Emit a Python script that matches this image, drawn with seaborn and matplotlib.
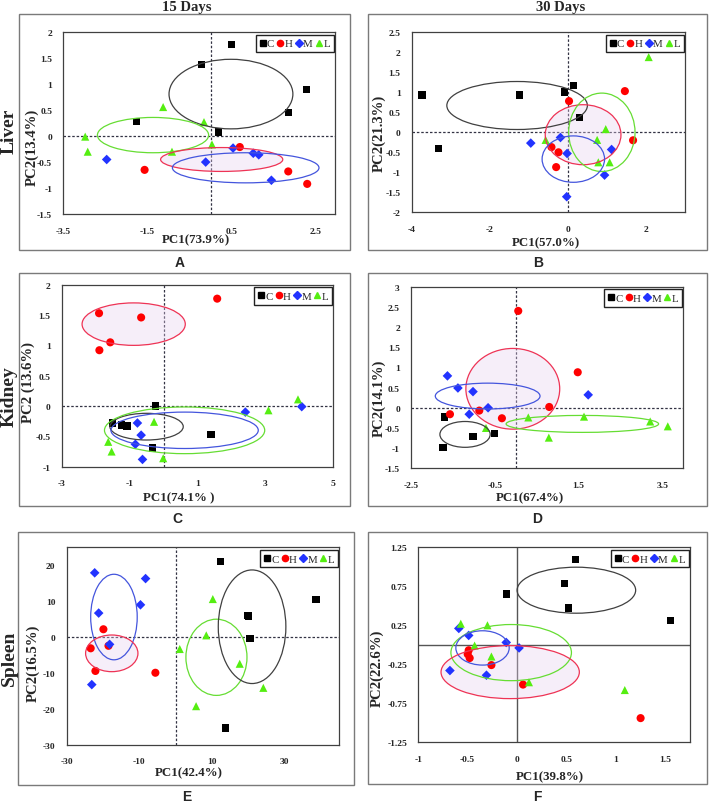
import matplotlib
matplotlib.use('Agg')
import matplotlib.pyplot as plt
import seaborn as sns
import pandas as pd
from matplotlib.patches import Ellipse, Rectangle
from matplotlib.lines import Line2D

groups = ['C', 'H', 'M', 'L']

# ---- A: liver, 15 days ----
A_C = [(0.49, 1.76), (-0.22, 1.38), (2.27, 0.90), (1.84, 0.45), (-1.76, 0.28), (0.18, 0.08)]
A_H = [(0.69, -0.21), (-1.57, -0.65), (1.84, -0.68), (2.29, -0.92)]
A_M = [(-2.47, -0.45), (-0.12, -0.50), (0.53, -0.23), (1.01, -0.33), (1.14, -0.36), (1.44, -0.85)]
A_L = [(-2.98, -0.01), (-2.92, -0.30), (-1.13, 0.56), (-0.16, 0.27), (-0.92, -0.30), (0.03, -0.16)]
A_ELL = {'C': (0.48, 0.81, 1.47, 0.67), 'L': (-1.37, 0.02, 1.32, 0.34),
         'H': (0.26, -0.45, 1.45, 0.23), 'M': (0.83, -0.61, 1.74, 0.29)}

# ---- B: liver, 30 days ----
B_C = [(-3.74, 0.93), (-3.32, -0.40), (-1.24, 0.93), (-0.08, 1.01), (0.14, 1.17), (0.29, 0.37)]
B_H = [(0.03, 0.78), (1.46, 1.03), (1.67, -0.20), (-0.42, -0.37), (-0.24, -0.50), (-0.30, -0.87)]
B_M = [(-0.95, -0.27), (-0.19, -0.13), (-0.02, -0.53), (1.12, -0.43), (0.94, -1.07), (-0.03, -1.61)]
B_L = [(2.07, 1.88), (0.97, 0.08), (0.75, -0.19), (-0.57, -0.19), (0.78, -0.75), (1.07, -0.75)]
B_ELL = {'C': (-1.30, 0.67, 1.80, 0.60), 'H': (0.39, -0.06, 0.97, 0.75),
         'L': (0.87, 0.0, 0.85, 0.98), 'M': (0.14, -0.67, 0.80, 0.58)}

# ---- C: kidney, 15 days ----
C_C = [(-0.24, 0.0), (-1.50, -0.28), (-1.23, -0.31), (-1.08, -0.33), (1.40, -0.47), (-0.33, -0.69)]
C_H = [(-1.90, 1.53), (-0.66, 1.46), (-1.57, 1.05), (-1.89, 0.92), (1.58, 1.77)]
C_M = [(2.41, -0.10), (4.07, -0.01), (-0.77, -0.28), (-0.66, -0.48), (-0.83, -0.63), (-0.62, -0.88)]
C_L = [(3.96, 0.11), (3.09, -0.07), (-0.28, -0.26), (-1.63, -0.59), (-1.53, -0.75), (-0.01, -0.86)]
C_ELL = {'H': (-0.88, 1.35, 1.52, 0.35), 'C': (-0.50, -0.34, 1.08, 0.22),
         'M': (0.62, -0.40, 2.17, 0.30), 'L': (0.62, -0.40, 2.36, 0.385)}

# ---- D: kidney, 30 days ----
D_C = [(-1.70, -0.23), (-1.74, -0.98), (-1.02, -0.71), (-0.51, -0.64)]
D_H = [(0.06, 2.40), (1.48, 0.88), (0.80, 0.02), (-1.57, -0.16), (-0.87, -0.07), (-0.33, -0.26)]
D_M = [(-1.63, 0.79), (-1.38, 0.49), (-1.02, 0.40), (-0.66, 0.0), (-1.11, -0.16), (1.73, 0.32)]
D_L = [(0.30, -0.24), (1.63, -0.22), (3.21, -0.34), (3.63, -0.46), (0.79, -0.74), (-0.71, -0.50)]
D_ELL = {'H': (-0.07, 0.47, 1.12, 1.0), 'M': (-0.67, 0.29, 1.25, 0.32),
         'C': (-1.21, -0.66, 0.60, 0.32), 'L': (1.59, -0.40, 1.82, 0.21)}

# ---- E: spleen, 15 days ----
E_C = [(12.4, 21.0), (38.6, 10.4), (19.9, 6.0), (20.1, 5.8), (20.4, -0.3), (13.7, -25.3)]
E_H = [(-19.9, 2.2), (-23.4, -3.1), (-18.5, -2.4), (-22.1, -9.4), (-5.6, -9.9)]
E_M = [(-22.3, 17.9), (-8.3, 16.3), (-21.2, 6.7), (-9.7, 9.0), (-18.2, -2.0), (-23.1, -13.2)]
E_L = [(10.2, 10.6), (8.4, 0.5), (1.1, -3.3), (17.6, -7.4), (24.1, -14.1), (5.6, -19.2)]
E_ELL = {'M': (-17.0, 5.6, 6.4, 11.9), 'H': (-17.6, -4.5, 7.2, 5.1),
         'L': (11.2, -5.6, 8.4, 10.6), 'C': (21.0, 2.9, 9.3, 15.8)}

# ---- F: spleen, 30 days ----
F_C = [(0.59, 1.09), (0.48, 0.79), (0.52, 0.47), (-0.11, 0.65), (1.55, 0.31)]
F_H = [(-0.49, -0.07), (-0.50, -0.12), (-0.48, -0.17), (-0.26, -0.26), (0.06, -0.51), (1.25, -0.94)]
F_M = [(-0.59, 0.21), (-0.49, 0.12), (-0.11, 0.03), (0.02, -0.04), (-0.68, -0.33), (-0.31, -0.39)]
F_L = [(-0.57, 0.27), (-0.30, 0.25), (-0.43, -0.01), (-0.26, -0.15), (0.12, -0.48), (1.09, -0.58)]
F_ELL = {'C': (0.60, 0.70, 0.60, 0.295), 'L': (-0.06, -0.10, 0.61, 0.36),
         'M': (-0.35, -0.04, 0.27, 0.22), 'H': (-0.07, -0.35, 0.70, 0.34)}

colors = {'C': '#000000', 'H': '#ff0000', 'M': '#2233ff', 'L': '#55ee11'}
ell_colors = {'C': '#404040', 'H': '#ee3355', 'M': '#4455dd', 'L': '#66dd33'}
markers = {'C': 's', 'H': 'o', 'M': 'D', 'L': '^'}
msize = {'C': 28, 'H': 34, 'M': 24, 'L': 34}

W, H = 709, 804
SERIF = ['Liberation Serif', 'DejaVu Serif']


def frac(l, t, r, b):
    return [l / W, 1 - b / H, (r - l) / W, (b - t) / H]


panels = [
    dict(pts=(A_C, A_H, A_M, A_L), ell=A_ELL, xlim=(-3.5, 2.95), ylim=(-1.5, 2),
         xt=[-3.5, -1.5, 0.5, 2.5], yt=[-1.5, -1, -0.5, 0, 0.5, 1, 1.5, 2],
         ax=(63.3, 33.3, 335, 215), box=(19, 15, 350, 250.7),
         xl=('PC1(73.9%)', 196, 240), yl=('PC2(13.4%)', 32, 147), tag=('A', 180, 263), solid=False),
    dict(pts=(B_C, B_H, B_M, B_L), ell=B_ELL, xlim=(-4, 3), ylim=(-2, 2.5),
         xt=[-4, -2, 0, 2], yt=[-2, -1.5, -1, -0.5, 0, 0.5, 1, 1.5, 2, 2.5],
         ax=(411.7, 33.3, 685, 213.3), box=(368.3, 15, 706.7, 250.7),
         xl=('PC1(57.0%)', 546, 243), yl=('PC2(21.3%)', 379, 133), tag=('B', 538, 263), solid=False),
    dict(pts=(C_C, C_H, C_M, C_L), ell=C_ELL, xlim=(-3, 5), ylim=(-1, 2),
         xt=[-3, -1, 1, 3, 5], yt=[-1, -0.5, 0, 0.5, 1, 1.5, 2],
         ax=(61.7, 285.7, 333.3, 467.7), box=(19, 274.3, 350, 507.3),
         xl=('PC1(74.1% )', 179, 498), yl=('PC2 (13.6%)', 28, 383), tag=('C', 177, 519), solid=False),
    dict(pts=(D_C, D_H, D_M, D_L), ell=D_ELL, xlim=(-2.5, 4.0), ylim=(-1.5, 3),
         xt=[-2.5, -0.5, 1.5, 3.5], yt=[-1.5, -1, -0.5, 0, 0.5, 1, 1.5, 2, 2.5, 3],
         ax=(411, 287.7, 683.3, 469.3), box=(368.3, 274.3, 706.7, 507.3),
         xl=('PC1(67.4%)', 530, 498), yl=('PC2(14.1%)', 379, 398), tag=('D', 537, 519), solid=False),
    dict(pts=(E_C, E_H, E_M, E_L), ell=E_ELL, xlim=(-30, 45), ylim=(-30, 25),
         xt=[-30, -10, 10, 30], yt=[-30, -20, -10, 0, 10, 20],
         ax=(66.7, 548.3, 339.3, 746), box=(18.3, 532.7, 354, 786),
         xl=('PC1(42.4%)', 189, 773), yl=('PC2(16.5%)', 33, 663), tag=('E', 187, 797), solid=False),
    dict(pts=(F_C, F_H, F_M, F_L), ell=F_ELL, xlim=(-1, 1.75), ylim=(-1.25, 1.25),
         xt=[-1, -0.5, 0, 0.5, 1, 1.5], yt=[-1.25, -0.75, -0.25, 0.25, 0.75, 1.25],
         ax=(418.3, 548.3, 690, 743.3), box=(368.3, 532.7, 706.7, 785),
         xl=('PC1(39.8%)', 550, 777), yl=('PC2(22.6%)', 377, 668), tag=('F', 537, 797), solid=True),
]

sns.set_theme(style='white')
plt.rcParams['font.family'] = SERIF

fig = plt.figure(figsize=(7.09, 8.04), dpi=100)
fig.patch.set_facecolor('white')

for p in panels:
    # outer frame of the panel
    l, t, r, b = p['box']
    fig.patches.append(Rectangle((l / W, 1 - b / H), (r - l) / W, (b - t) / H,
                                 transform=fig.transFigure, fill=False,
                                 edgecolor='#7a7a7a', linewidth=1.0, zorder=0))

    ax = fig.add_axes(frac(*p['ax']))
    rows = []
    for g, pts in zip(groups, p['pts']):
        for x, y in pts:
            rows.append({'x': x, 'y': y, 'grp': g})
    df = pd.DataFrame(rows)

    # reference lines
    if p['solid']:
        ax.axhline(0, color='#555555', lw=1.0, zorder=1)
        ax.axvline(0, color='#555555', lw=1.0, zorder=1)
    else:
        ax.axhline(0, color='#333344', lw=0.9, ls=(0, (2, 1.5)), zorder=1)
        ax.axvline(0, color='#333344', lw=0.9, ls=(0, (2, 1.5)), zorder=1)

    for g in groups:
        sub = df[df['grp'] == g]
        sns.scatterplot(data=sub, x='x', y='y', color=colors[g], marker=markers[g],
                        s=msize[g], edgecolor='none', legend=False, ax=ax, zorder=3)

    # group ellipses
    for g, (cx, cy, hw, hh) in p['ell'].items():
        if g == 'H':
            ax.add_patch(Ellipse((cx, cy), 2 * hw, 2 * hh, facecolor='#e8d0f0',
                                 alpha=0.35, edgecolor='none', zorder=2))
        ax.add_patch(Ellipse((cx, cy), 2 * hw, 2 * hh, fill=False,
                             edgecolor=ell_colors[g], lw=0.9, zorder=4))

    ax.set_xlim(*p['xlim'])
    ax.set_ylim(*p['ylim'])
    ax.set_xticks(p['xt'])
    ax.set_yticks(p['yt'])
    ax.set_xticklabels([f'{v:g}' for v in p['xt']])
    ax.set_yticklabels([f'{v:g}' for v in p['yt']])
    ax.set_xlabel('')
    ax.set_ylabel('')
    ax.tick_params(axis='both', length=0, labelsize=6.8)
    ax.tick_params(axis='x', pad=9)
    ax.tick_params(axis='y', pad=8)
    for lab in ax.get_xticklabels() + ax.get_yticklabels():
        lab.set_fontweight('bold')
    for sp in ax.spines.values():
        sp.set_color('#404040')
        sp.set_linewidth(0.9)

    handles = [Line2D([], [], ls='none', marker=markers[g], color=colors[g],
                      markersize=4.5 if g != 'M' else 3.8) for g in groups]
    ax.legend(handles, groups, ncol=4, loc='upper right', bbox_to_anchor=(0.995, 0.985),
              frameon=True, fancybox=False, edgecolor='#222222', framealpha=1,
              handlelength=0.55, handletextpad=0.12, columnspacing=0.3,
              borderpad=0.35, borderaxespad=0.0, prop={'family': SERIF, 'size': 7.8})

    t_, x_, y_ = p['xl']
    fig.text(x_ / W, 1 - y_ / H, t_, ha='center', va='center',
             fontsize=9.3, fontweight='bold')
    t_, x_, y_ = p['yl']
    fig.text(x_ / W, 1 - y_ / H, t_, ha='center', va='center', rotation=90,
             fontsize=10.6, fontweight='bold')
    t_, x_, y_ = p['tag']
    fig.text(x_ / W, 1 - y_ / H, t_, ha='center', va='center',
             fontsize=10, fontweight='bold', family=['Liberation Sans', 'DejaVu Sans'])

fig.text(187 / W, 1 - 8 / H, '15 Days', ha='center', va='center', fontsize=10.5, fontweight='bold')
fig.text(561 / W, 1 - 8 / H, '30 Days', ha='center', va='center', fontsize=10.5, fontweight='bold')
for name, y_ in [('Liver', 131), ('Kidney', 397), ('Spleen', 658)]:
    fig.text(9 / W, 1 - y_ / H, name, ha='center', va='center', rotation=90,
             fontsize=14, fontweight='bold')

fig.savefig('out.png', dpi=100, facecolor='white')
